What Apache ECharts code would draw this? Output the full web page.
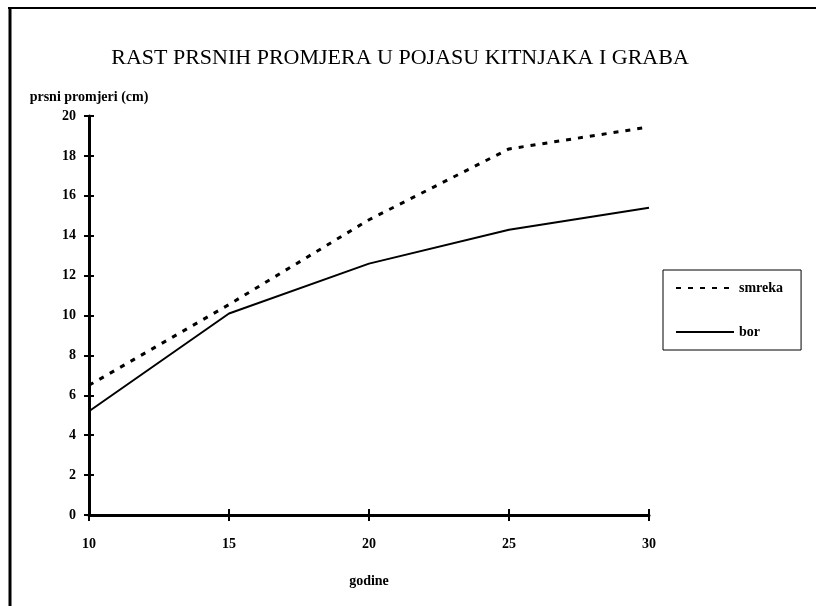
<!DOCTYPE html>
<html>
<head>
<meta charset="utf-8">
<script src="https://cdn.jsdelivr.net/npm/echarts@6/dist/echarts.min.js"></script>
<style>
  html, body { margin: 0; padding: 0; background: #fff; }
  #chart { width: 822px; height: 606px; }
</style>
</head>
<body>
<div id="chart"></div>
<script>
// godine (x) i prsni promjeri (y)
const years = [10, 15, 20, 25, 30]
const smreka = [6.5, 10.55, 14.8, 18.35, 19.45]
const bor = [5.2, 10.1, 12.6, 14.3, 15.4]
const seriesNames = ['smreka', 'bor']

const serif = 'Liberation Serif'
const tickText = { color: '#000', fontFamily: serif, fontWeight: 'bold', fontSize: 14 }

const pairs = (ys) => years.map((x, i) => [x, ys[i]])

const option = {
  backgroundColor: '#fff',
  animation: false,
  title: {
    text: 'RAST PRSNIH PROMJERA U POJASU KITNJAKA I GRABA',
    left: 395,
    textAlign: 'center',
    top: 42,
    textStyle: { color: '#000', fontFamily: serif, fontWeight: 'normal', fontSize: 22 }
  },
  legend: {
    orient: 'vertical',
    left: 663,
    top: 270,
    padding: [11, 18, 11, 12],
    itemGap: 30,
    itemWidth: 58,
    itemHeight: 10,
    borderColor: '#000',
    borderWidth: 1,
    data: seriesNames,
    itemStyle: { color: 'transparent', borderWidth: 0 },
    textStyle: { color: '#000', fontFamily: serif, fontWeight: 'bold', fontSize: 14 }
  },
  grid: { left: 89, right: 173, top: 116, bottom: 91 },
  xAxis: [{
    type: 'value',
    min: 10,
    max: 30,
    interval: 5,
    name: 'godine',
    nameLocation: 'middle',
    nameGap: 59,
    nameTextStyle: tickText,
    axisLine: { onZero: false, lineStyle: { color: '#000', width: 3 } },
    axisTick: { length: 6, lineStyle: { color: '#000', width: 2 } },
    axisLabel: Object.assign({ margin: 22 }, tickText),
    splitLine: { show: false }
  }, {
    type: 'value',
    position: 'bottom',
    min: 10,
    max: 30,
    interval: 5,
    axisLine: { show: false },
    axisTick: { inside: true, length: 6, lineStyle: { color: '#000', width: 2 } },
    axisLabel: { show: false },
    splitLine: { show: false }
  }],
  yAxis: [{
    type: 'value',
    min: 0,
    max: 20,
    interval: 2,
    name: 'prsni promjeri (cm)',
    nameGap: 12,
    nameTextStyle: tickText,
    axisLine: { lineStyle: { color: '#000', width: 3 } },
    axisTick: { length: 5, lineStyle: { color: '#000', width: 2 } },
    axisLabel: Object.assign({ margin: 13 }, tickText),
    splitLine: { show: false }
  }, {
    type: 'value',
    position: 'left',
    min: 0,
    max: 20,
    interval: 2,
    axisLine: { show: false },
    axisTick: { show: true, inside: true, length: 5, lineStyle: { color: '#000', width: 2 } },
    axisLabel: { show: false },
    splitLine: { show: false }
  }],
  graphic: [
    { type: 'line', shape: { x1: 10, y1: 8, x2: 10, y2: 606 }, style: { stroke: '#000', lineWidth: 3 } },
    { type: 'line', shape: { x1: 8, y1: 8, x2: 816, y2: 8 }, style: { stroke: '#000', lineWidth: 2 } }
  ],
  series: [{
    name: 'smreka',
    type: 'line',
    symbol: 'none',
    data: pairs(smreka),
    lineStyle: { color: '#000', width: 3, type: [5, 7] },
    itemStyle: { color: '#000' }
  }, {
    name: 'bor',
    type: 'line',
    symbol: 'none',
    data: pairs(bor),
    lineStyle: { color: '#000', width: 2, type: 'solid' },
    itemStyle: { color: '#000' }
  }]
}

const myChart = echarts.init(document.getElementById('chart'))
myChart.setOption(option)
</script>
</body>
</html>
